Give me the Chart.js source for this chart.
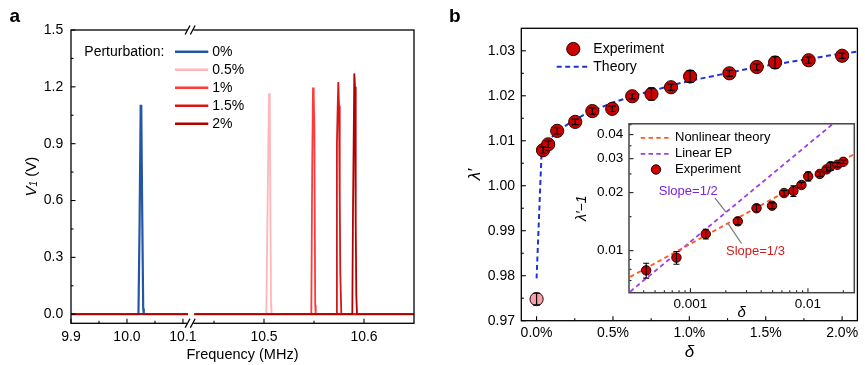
<!DOCTYPE html>
<html><head><meta charset="utf-8">
<script src="https://cdn.jsdelivr.net/npm/chart.js@4/dist/chart.umd.js"></script>
<style>
html,body{margin:0;padding:0;background:#fff;}
body{width:865px;height:365px;position:relative;overflow:hidden;}
canvas{position:absolute;}
#ca{left:0;top:0;} #cb{left:430px;top:0;} #ci{left:560px;top:110px;}
</style></head><body>
<canvas id="ca" width="430" height="365"></canvas>
<canvas id="cb" width="435" height="365"></canvas>
<canvas id="ci" width="300" height="215"></canvas>
<script>
// ================= DATA =================
// Panel a: spectra (frequency in MHz, V1 in V); null = axis break gap
const perturbLabels = ['0%', '0.5%', '1%', '1.5%', '2%'];
const freq0  = [9.9, 10.0205, 10.0225, 10.0245, 10.0255, 10.027, 10.029, 10.030, 10.109, 10.3, 10.4303, 10.65];
const volt0  = [0, 0, 0.47, 1.10, 1.10, 0.60, 0.03, 0, 0, null, 0, 0];
const freq05 = [9.9, 10.109, 10.3, 10.4303, 10.5023, 10.5042, 10.505, 10.5058, 10.5063, 10.507, 10.5075, 10.65];
const volt05 = [0, 0, null, 0, 0, 0.85, 1.166, 1.10, 0.60, 0.05, 0, 0];
const freq1  = [9.9, 10.109, 10.3, 10.4303, 10.5473, 10.5482, 10.549, 10.5497, 10.5503, 10.5512, 10.5517, 10.65];
const volt1  = [0, 0, null, 0, 0, 0.78, 1.196, 1.15, 1.0, 0.05, 0, 0];
const freq15 = [9.9, 10.109, 10.3, 10.4303, 10.5723, 10.5729, 10.5735, 10.5743, 10.575, 10.5757, 10.5763, 10.5773, 10.65];
const volt15 = [0, 0, null, 0, 0, 0.9, 1.05, 1.226, 1.1, 0.62, 0.22, 0, 0];
const freq2  = [9.9, 10.109, 10.3, 10.4303, 10.5883, 10.589, 10.5903, 10.591, 10.5917, 10.5923, 10.593, 10.65];
const volt2  = [0, 0, null, 0, 0, 0.55, 1.271, 1.2, 0.48, 0.1, 0, 0];
const freqTicks = [9.9, 10.0, 10.1, 10.5, 10.6];
const freqMinor = [9.95, 10.05, 10.45, 10.55];
const voltTicks = [0, 0.3, 0.6, 0.9, 1.2, 1.5];
const voltMinor = [0.15, 0.45, 0.75, 1.05, 1.35];

// Panel b: eigenvalue vs perturbation (delta in %)
const deltaPct  = [0, 0.042, 0.076, 0.135, 0.253, 0.365, 0.495, 0.626, 0.752, 0.88, 1.005, 1.262, 1.441, 1.561, 1.781, 2.0];
const lambdaExp = [0.9748, 1.0079, 1.0092, 1.0122, 1.0142, 1.0166, 1.0171, 1.0199, 1.0204, 1.0219, 1.0243, 1.0250, 1.0264, 1.0274, 1.0279, 1.0289];
const lambdaErr = [0.0013, 0.0007, 0.0007, 0.0007, 0.0006, 0.0007, 0.0006, 0.0006, 0.0013, 0.0007, 0.0013, 0.0007, 0.0007, 0.0013, 0.0007, 0.0006];
const theoryDelta  = [0, 0.032, 0.05, 0.1, 0.15, 0.2, 0.3, 0.4, 0.5, 0.6, 0.7, 0.8, 0.9, 1.0, 1.2, 1.4, 1.6, 1.8, 2.0, 2.1];
const theoryLambda = [0.9794, 1.0068, 1.0085, 1.0108, 1.0124, 1.0136, 1.0156, 1.0171, 1.0185, 1.0196, 1.0206, 1.0215, 1.0225, 1.0233, 1.0247, 1.0261, 1.0272, 1.0283, 1.0294, 1.0298];
const deltaTicks  = [0, 0.5, 1.0, 1.5, 2.0];
const deltaMinor  = [0.25, 0.75, 1.25, 1.75];
const lambdaTicks = [0.97, 0.98, 0.99, 1.00, 1.01, 1.02, 1.03];
const lambdaMinor = [0.975, 0.985, 0.995, 1.005, 1.015, 1.025];

// Inset: log-log (delta as fraction, lambda'-1)
const insetDelta = deltaPct.slice(1).map(d => d / 100);
const insetLm1   = lambdaExp.slice(1).map(l => l - 1);
const insetErr   = lambdaErr.slice(1);
const nonlinDelta = [0.000307, 0.0248];
const nonlinLm1   = [0.00731, 0.0317];
const linEPDelta  = [0.000307, 0.01633];
const linEPLm1    = [0.00613, 0.0455];
const insetXTicks = [0.001, 0.01];
const insetXLabels = ['0.001', '0.01'];
const insetXMinor = [0.0004, 0.0005, 0.0006, 0.0007, 0.0008, 0.0009, 0.002, 0.003, 0.004, 0.005, 0.006, 0.007, 0.008, 0.009, 0.02];
const insetYTicks = [0.01, 0.02, 0.03, 0.04];
const insetYLabels = ['0.01', '0.02', '0.03', '0.04'];
const insetYMinor = [0.007, 0.008, 0.009, 0.015, 0.025, 0.035, 0.045];

// ================= SETUP =================
const FONT = "'Liberation Sans', Arial, Helvetica, sans-serif";
Chart.defaults.font.family = FONT;
Chart.defaults.font.size = 14;
Chart.defaults.color = '#000';
Chart.defaults.animation = false;
Chart.defaults.responsive = false;
Chart.defaults.events = [];
Chart.defaults.plugins.legend.display = false;
Chart.defaults.plugins.tooltip.enabled = false;

// Broken linear axis (two segments)
const BRK = { aFrom: 9.9, aTo: 10.109, aD0: 0, aD1: 0.3411, bFrom: 10.4303, bTo: 10.65, bD0: 0.3595, bD1: 1 };
class BrokenScale extends Chart.LinearScale {
  getPixelForValue(value) {
    if (value === null || value === undefined || isNaN(value)) return NaN;
    let d;
    if (value <= BRK.aTo) d = BRK.aD0 + (value - BRK.aFrom) / (BRK.aTo - BRK.aFrom) * (BRK.aD1 - BRK.aD0);
    else if (value >= BRK.bFrom) d = BRK.bD0 + (value - BRK.bFrom) / (BRK.bTo - BRK.bFrom) * (BRK.bD1 - BRK.bD0);
    else d = (BRK.aD1 + BRK.bD0) / 2;
    return this.getPixelForDecimal(d);
  }
}
BrokenScale.id = 'broken';
Chart.register(BrokenScale);

const fixWidth = w => s => { s.width = w; };
const fixHeight = h => s => { s.height = h; };
const setTicks = vals => s => { s.ticks = vals.map(v => ({ value: v })); };
const labelFor = (vals, labels) => v => { const i = vals.findIndex(t => Math.abs(t - v) / t < 1e-6); return i < 0 ? '' : labels[i]; };
const noGrid = { display: false, drawTicks: false, tickLength: 0 };

function ticksPlugin(id, spec, majorLen, minorLen, color, lw) {
  return { id, afterDatasetsDraw(chart) {
    const { ctx, chartArea: a } = chart;
    ctx.save(); ctx.strokeStyle = color; ctx.lineWidth = lw;
    for (const sid in spec) {
      const s = chart.scales[sid]; const hz = s.isHorizontal();
      [[spec[sid].major, majorLen], [spec[sid].minor, minorLen]].forEach(([vals, len]) => {
        vals.forEach(v => {
          const p = s.getPixelForValue(v);
          ctx.beginPath();
          if (hz) { ctx.moveTo(p, a.bottom); ctx.lineTo(p, a.bottom - len); }
          else { ctx.moveTo(a.left, p); ctx.lineTo(a.left + len, p); }
          ctx.stroke();
        });
      });
    }
    ctx.restore();
  }};
}
function errorPlugin(id, dsIndex, errs, capHalf, lw) {
  return { id, afterDatasetsDraw(chart) {
    const { ctx } = chart; const ys = chart.scales.y;
    const meta = chart.getDatasetMeta(dsIndex); const ds = chart.data.datasets[dsIndex];
    ctx.save(); ctx.strokeStyle = '#000'; ctx.lineWidth = lw;
    meta.data.forEach((pt, i) => {
      const v = ds.data[i].y, e = errs[i];
      const y1 = ys.getPixelForValue(v - e), y2 = ys.getPixelForValue(v + e);
      ctx.beginPath();
      ctx.moveTo(pt.x, y1); ctx.lineTo(pt.x, y2);
      ctx.moveTo(pt.x - capHalf, y1); ctx.lineTo(pt.x + capHalf, y1);
      ctx.moveTo(pt.x - capHalf, y2); ctx.lineTo(pt.x + capHalf, y2);
      ctx.stroke();
    });
    ctx.restore();
  }};
}
function framePlugin(id, color, lw) {
  return { id, afterDatasetsDraw(chart) {
    const { ctx, chartArea: a } = chart;
    ctx.save(); ctx.strokeStyle = color; ctx.lineWidth = lw;
    ctx.strokeRect(a.left, a.top, a.right - a.left, a.bottom - a.top);
    ctx.restore();
  }};
}
function panelLabel(id, text, x, y) {
  return { id, afterDraw(chart) {
    const ctx = chart.ctx; ctx.save();
    ctx.font = `bold 19px ${FONT}`; ctx.fillStyle = '#000'; ctx.textAlign = 'center'; ctx.textBaseline = 'middle';
    ctx.fillText(text, x, y); ctx.restore();
  }};
}

// ================= PANEL A =================
const seriesA = [[freq0, volt0], [freq05, volt05], [freq1, volt1], [freq15, volt15], [freq2, volt2]];
const colorsA = ['#2356a6', '#ffb6ba', '#ff3a3a', '#d81818', '#b50000'];
const widthsA = [2.2, 1.8, 1.8, 1.8, 1.8];

new Chart(document.getElementById('ca'), {
  type: 'line',
  data: { datasets: seriesA.map(([f, v], i) => ({
    label: perturbLabels[i],
    data: f.map((x, j) => ({ x, y: v[j] })),
    borderColor: colorsA[i], borderWidth: widthsA[i], pointRadius: 0, tension: 0, fill: false, order: 4 - i
  })) },
  options: {
    devicePixelRatio: 1,
    layout: { padding: { left: 0, top: 30, right: 16, bottom: 0 } },
    scales: {
      x: { type: 'broken', min: 9.9, max: 10.65, bounds: 'data',
        grid: noGrid, border: { display: false },
        afterBuildTicks: setTicks(freqTicks), afterFit: fixHeight(41.7),
        ticks: { autoSkip: false, maxRotation: 0, minRotation: 0, padding: 5, callback: v => v.toFixed(1) },
        title: { display: true, text: 'Frequency (MHz)', font: { size: 14.5 }, padding: { top: 0, bottom: 1.6 } } },
      y: { type: 'linear', min: -0.048, max: 1.5, bounds: 'data',
        grid: noGrid, border: { display: false },
        afterBuildTicks: setTicks(voltTicks), afterFit: fixWidth(71),
        ticks: { autoSkip: false, padding: 7.7, callback: v => v.toFixed(1) } }
    }
  },
  plugins: [
    ticksPlugin('tA', { x: { major: freqTicks, minor: freqMinor }, y: { major: voltTicks, minor: voltMinor } }, 4.5, 2.5, '#000', 1.1),
    { id: 'frameA', afterDatasetsDraw(chart) {
      const { ctx, chartArea: a } = chart; const xs = chart.scales.x;
      ctx.save(); ctx.strokeStyle = '#000'; ctx.lineWidth = 1.3;
      ctx.strokeRect(a.left, a.top, a.right - a.left, a.bottom - a.top);
      const bx = xs.getPixelForDecimal((BRK.aD1 + BRK.bD0) / 2) - 1;
      [a.top, a.bottom].forEach(yy => {
        ctx.fillStyle = '#fff'; ctx.fillRect(bx - 3.2, yy - 2, 6.4, 4);
        ctx.beginPath();
        [-2.6, 2.6].forEach(dx => { ctx.moveTo(bx + dx - 2.4, yy + 4.5); ctx.lineTo(bx + dx + 2.4, yy - 4.5); });
        ctx.stroke();
      });
      ctx.restore();
    }},
    { id: 'legendA', afterDatasetsDraw(chart) {
      const { ctx, chartArea: a } = chart;
      ctx.save(); ctx.font = `14px ${FONT}`; ctx.fillStyle = '#000'; ctx.textBaseline = 'middle'; ctx.textAlign = 'left';
      ctx.fillText('Perturbation:', a.left + 13.3, a.top + 21.7);
      chart.data.datasets.forEach((d, i) => {
        const y = a.top + 21.7 + 18 * i;
        ctx.strokeStyle = d.borderColor; ctx.lineWidth = 2.6;
        ctx.beginPath(); ctx.moveTo(a.left + 104, y); ctx.lineTo(a.left + 137.3, y); ctx.stroke();
        ctx.fillText(d.label, a.left + 141.3, y);
      });
      ctx.restore();
    }},
    { id: 'ytitleA', afterDraw(chart) {
      const ctx = chart.ctx; ctx.save();
      ctx.translate(31.7, 176.7); ctx.rotate(-Math.PI / 2);
      ctx.fillStyle = '#000'; ctx.textBaseline = 'middle'; ctx.textAlign = 'left';
      const parts = [['V', `italic 15px ${FONT}`, 0], ['1', `italic 10px ${FONT}`, 3], [' (V)', `15px ${FONT}`, 0]];
      let total = 0;
      parts.forEach(p => { ctx.font = p[1]; total += ctx.measureText(p[0]).width; });
      let x = -total / 2;
      parts.forEach(p => { ctx.font = p[1]; ctx.fillText(p[0], x, p[2]); x += ctx.measureText(p[0]).width; });
      ctx.restore();
    }},
    panelLabel('labA', 'a', 14.7, 16.7)
  ]
});

// ================= PANEL B (main) =================
const markerRed = '#cc0000';
new Chart(document.getElementById('cb'), {
  type: 'line',
  data: { datasets: [
    { label: 'Experiment', data: deltaPct.map((x, i) => ({ x, y: lambdaExp[i] })), showLine: false,
      pointRadius: 6.6, pointBackgroundColor: deltaPct.map((_, i) => i === 0 ? '#f5a3a6' : markerRed),
      pointBorderColor: '#2a0000', pointBorderWidth: 1, order: 0 },
    { label: 'Theory', data: theoryDelta.map((x, i) => ({ x, y: theoryLambda[i] })),
      borderColor: '#1f33d2', borderWidth: 2, borderDash: [5, 3.5], pointRadius: 0, tension: 0, fill: false, order: 1 }
  ] },
  options: {
    devicePixelRatio: 1,
    layout: { padding: { left: 0, top: 28.3, right: 3, bottom: 0 } },
    scales: {
      x: { type: 'linear', min: -0.1, max: 2.1, bounds: 'data',
        grid: noGrid, border: { display: false },
        afterBuildTicks: setTicks(deltaTicks), afterFit: fixHeight(44.3),
        ticks: { autoSkip: false, maxRotation: 0, minRotation: 0, padding: 4.2, callback: v => v.toFixed(1) + '%' },
        title: { display: true, text: 'δ', font: { size: 17, style: 'italic' }, padding: { top: 0, bottom: 2.2 } } },
      y: { type: 'linear', min: 0.97, max: 1.035, bounds: 'data',
        grid: noGrid, border: { display: false },
        afterBuildTicks: setTicks(lambdaTicks), afterFit: fixWidth(91.3),
        ticks: { autoSkip: false, padding: 6.3, callback: v => v.toFixed(2) },
        title: { display: true, text: 'λ′', font: { size: 17, style: 'italic' }, padding: { top: 34.8, bottom: 0 } } }
    }
  },
  plugins: [
    ticksPlugin('tB', { x: { major: deltaTicks, minor: deltaMinor }, y: { major: lambdaTicks, minor: lambdaMinor } }, 4.5, 2.5, '#000', 1.1),
    errorPlugin('eB', 0, lambdaErr, 3.5, 1.2),
    framePlugin('fB', '#000', 1.3),
    { id: 'legendB', afterDatasetsDraw(chart) {
      const { ctx, chartArea: a } = chart;
      ctx.save();
      ctx.beginPath(); ctx.arc(a.left + 52, a.top + 20.7, 6.6, 0, Math.PI * 2);
      ctx.fillStyle = markerRed; ctx.fill(); ctx.strokeStyle = '#2a0000'; ctx.lineWidth = 1; ctx.stroke();
      const th = chart.data.datasets[1];
      ctx.strokeStyle = th.borderColor; ctx.lineWidth = 2; ctx.setLineDash([5, 3.5]);
      ctx.beginPath(); ctx.moveTo(a.left + 35.4, a.top + 38.4); ctx.lineTo(a.left + 68.7, a.top + 38.4); ctx.stroke();
      ctx.setLineDash([]);
      ctx.font = `14px ${FONT}`; ctx.fillStyle = '#000'; ctx.textBaseline = 'middle'; ctx.textAlign = 'left';
      ctx.fillText(chart.data.datasets[0].label, a.left + 72, a.top + 20.7);
      ctx.fillText(th.label, a.left + 72, a.top + 38.4);
      ctx.restore();
    }},
    panelLabel('labB', 'b', 24.7, 17)
  ]
});

// ================= INSET =================
const orange = '#ff5a24', purple = '#9b3cf5';
new Chart(document.getElementById('ci'), {
  type: 'line',
  data: { datasets: [
    { label: 'Experiment', data: insetDelta.map((x, i) => ({ x, y: insetLm1[i] })), showLine: false,
      pointRadius: 4.7, pointBackgroundColor: markerRed, pointBorderColor: '#2a0000', pointBorderWidth: 1, order: 0 },
    { label: 'Nonlinear theory', data: nonlinDelta.map((x, i) => ({ x, y: nonlinLm1[i] })),
      borderColor: orange, borderWidth: 1.8, borderDash: [4.5, 3.3], pointRadius: 0, tension: 0, fill: false, order: 1 },
    { label: 'Linear EP', data: linEPDelta.map((x, i) => ({ x, y: linEPLm1[i] })),
      borderColor: purple, borderWidth: 1.8, borderDash: [4.5, 3.3], pointRadius: 0, tension: 0, fill: false, order: 2 }
  ] },
  options: {
    devicePixelRatio: 1,
    layout: { padding: { left: 0, top: 11, right: 4, bottom: 0 } },
    scales: {
      x: { type: 'logarithmic', min: 0.000307, max: 0.0248,
        grid: noGrid, border: { display: false },
        afterBuildTicks: setTicks(insetXTicks), afterFit: fixHeight(32.3),
        ticks: { autoSkip: false, maxRotation: 0, minRotation: 0, padding: 3.9, font: { size: 13.5 }, callback: labelFor(insetXTicks, insetXLabels) },
        title: { display: true, text: 'δ', font: { size: 15, style: 'italic' }, padding: { top: 0, bottom: 3 } } },
      y: { type: 'logarithmic', min: 0.00605, max: 0.0455,
        grid: noGrid, border: { display: false },
        afterBuildTicks: setTicks(insetYTicks), afterFit: fixWidth(69),
        ticks: { autoSkip: false, padding: 5.7, font: { size: 13.5 }, callback: labelFor(insetYTicks, insetYLabels) },
        title: { display: true, text: 'λ′−1', font: { size: 14, style: 'italic' }, padding: { top: 13.3, bottom: 0 } } }
    }
  },
  plugins: [
    { id: 'bgI', beforeDraw(chart) {
      const { ctx, chartArea: a } = chart; ctx.save(); ctx.fillStyle = '#fff';
      ctx.fillRect(a.left, a.top, a.right - a.left, a.bottom - a.top); ctx.restore();
    }},
    ticksPlugin('tI', { x: { major: insetXTicks, minor: insetXMinor }, y: { major: insetYTicks, minor: insetYMinor } }, 4.5, 2.5, '#222', 1.1),
    errorPlugin('eI', 0, insetErr, 3, 1.1),
    framePlugin('fI', '#444', 1.5),
    { id: 'annI', afterDatasetsDraw(chart) {
      const { ctx, chartArea: a } = chart; const xs = chart.scales.x, ys = chart.scales.y;
      const P = (x, y) => [xs.getPixelForValue(x), ys.getPixelForValue(y)];
      ctx.save();
      ctx.strokeStyle = '#777'; ctx.lineWidth = 1.2;
      [[[0.00162, 0.0187], [0.002007, 0.01586]], [[0.0021, 0.01377], [0.00272, 0.01089]]].forEach(([p, q]) => {
        const [x1, y1] = P(...p), [x2, y2] = P(...q);
        ctx.beginPath(); ctx.moveTo(x1, y1); ctx.lineTo(x2, y2); ctx.stroke();
      });
      ctx.font = `13px ${FONT}`; ctx.textBaseline = 'middle'; ctx.textAlign = 'left';
      let [tx, ty] = P(0.000538, 0.0204); ctx.fillStyle = '#7a24d4'; ctx.fillText('Slope=1/2', tx, ty);
      [tx, ty] = P(0.002007, 0.00992); ctx.fillStyle = '#cc2020'; ctx.fillText('Slope=1/3', tx, ty);
      const ds = chart.data.datasets;
      [[ds[1], 14], [ds[2], 30]].forEach(([d, dy]) => {
        ctx.strokeStyle = d.borderColor; ctx.lineWidth = 1.8; ctx.setLineDash([4.5, 3.3]);
        ctx.beginPath(); ctx.moveTo(a.left + 11.7, a.top + dy); ctx.lineTo(a.left + 42.7, a.top + dy); ctx.stroke();
        ctx.setLineDash([]);
        ctx.fillStyle = '#000'; ctx.fillText(d.label, a.left + 46, a.top + dy);
      });
      ctx.beginPath(); ctx.arc(a.left + 27, a.top + 45.7, 4.7, 0, Math.PI * 2);
      ctx.fillStyle = markerRed; ctx.fill(); ctx.strokeStyle = '#2a0000'; ctx.lineWidth = 1; ctx.stroke();
      ctx.fillStyle = '#000'; ctx.fillText(ds[0].label, a.left + 46, a.top + 45.7);
      ctx.restore();
    }}
  ]
});
</script>
</body></html>
